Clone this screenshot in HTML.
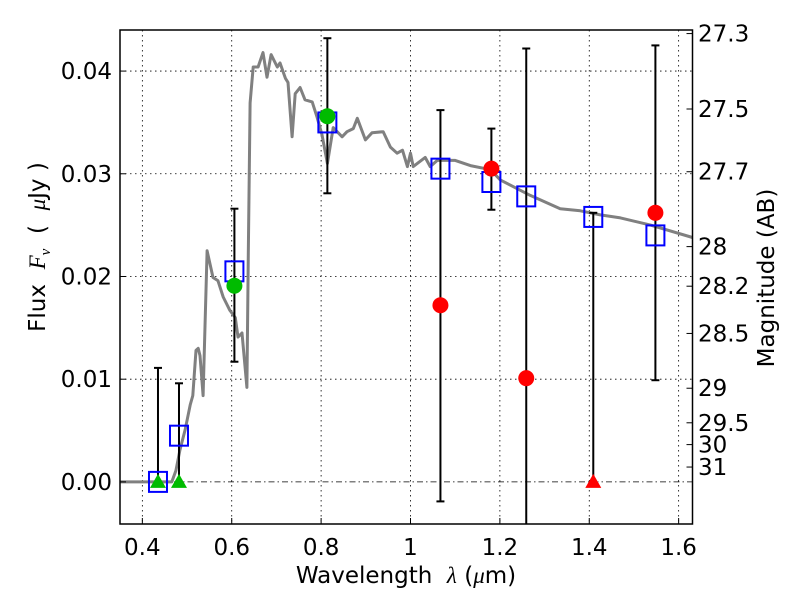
<!DOCTYPE html>
<html><head><meta charset="utf-8"><style>
html,body{margin:0;padding:0;background:#fff;}
svg{display:block;font-family:"DejaVu Sans","Liberation Sans",sans-serif;}
text{white-space:pre;}
</style></head><body>
<svg id="chart" width="800" height="600" xmlns="http://www.w3.org/2000/svg">
<rect x="0" y="0" width="800" height="600" fill="#fff"/>
<g id="grid"></g>
<g id="series"></g>
<rect x="120" y="30" width="572.5" height="494" fill="none" stroke="#000" stroke-width="1.5"/>
<g id="axes"></g>
<text x="406" y="583" font-size="23" text-anchor="middle">Wavelength  <tspan font-family="Liberation Serif" font-style="italic">λ</tspan> (<tspan font-family="Liberation Serif" font-style="italic">μ</tspan>m)</text>
<text transform="translate(45,247) rotate(-90)" font-size="23" text-anchor="middle">Flux  <tspan font-family="Liberation Serif" font-style="italic">F</tspan><tspan font-family="Liberation Serif" font-style="italic" font-size="15" dy="5">ν</tspan><tspan dy="-5">  (  </tspan><tspan font-family="Liberation Serif" font-style="italic">μ</tspan>Jy )</text>
<text transform="translate(774,278) rotate(-90)" font-size="23" text-anchor="middle">Magnitude (AB)</text>
</svg>
<script>
const xTicks=[0.4,0.6,0.8,1.0,1.2,1.4,1.6];
const xTickLabels=["0.4","0.6","0.8","1","1.2","1.4","1.6"];
const yTicks=[0,0.01,0.02,0.03,0.04];
const yTickLabels=["0.00","0.01","0.02","0.03","0.04"];
const magTicks=[27.3,27.5,27.7,28,28.2,28.5,29,29.5,30,31];
const specLam=[0.35,0.466,0.475,0.484,0.496,0.507,0.513,0.520,0.525,0.529,0.536,0.540,0.545,0.558,0.569,0.581,0.596,0.608,0.614,0.623,0.634,0.637,0.641,0.648,0.659,0.670,0.679,0.688,0.702,0.708,0.720,0.726,0.735,0.742,0.753,0.764,0.780,0.791,0.802,0.814,0.827,0.847,0.858,0.872,0.881,0.899,0.914,0.939,0.955,0.970,0.982,0.993,1.000,1.006,1.033,1.044,1.060,1.100,1.134,1.179,1.201,1.223,1.268,1.335,1.380,1.425,1.470,1.537,1.631];
const specFlux=[0,0,0.0011,0.0031,0.0051,0.0075,0.0084,0.0128,0.0130,0.0123,0.0084,0.0148,0.0225,0.0199,0.0196,0.0180,0.0167,0.0160,0.0141,0.0145,0.0092,0.0222,0.0369,0.0404,0.0404,0.0418,0.0394,0.0416,0.0404,0.0408,0.0393,0.0389,0.0336,0.0378,0.0384,0.0372,0.0370,0.0355,0.0338,0.0310,0.0345,0.0336,0.0341,0.0344,0.0354,0.0333,0.0340,0.0341,0.0326,0.0320,0.0323,0.0307,0.0320,0.0307,0.0316,0.0307,0.0313,0.0313,0.0308,0.0304,0.0294,0.0289,0.0279,0.0266,0.0264,0.0260,0.0257,0.0250,0.0238];
const modelLam=[0.435,0.482,0.606,0.814,1.067,1.181,1.259,1.409,1.548];
const modelFlux=[0.0,0.0045,0.0205,0.0350,0.0305,0.0292,0.0278,0.0258,0.0240];
const obsLam=[0.435,0.482,0.606,0.814,1.067,1.181,1.259,1.409,1.548];
const obsFlux=[0,0,0.0191,0.0356,0.0172,0.0305,0.0101,0,0.0262];
const obsLo=[0,0,0.0117,0.0281,-0.0019,0.0265,-0.006,0,0.0099];
const obsHi=[0.0111,0.0096,0.0266,0.0432,0.0362,0.0344,0.0422,0.0262,0.0425];
const obsKind=["upper","upper","det","det","det","det","det","upper","det"];
const obsColor=["#00bb00","#00bb00","#00bb00","#00bb00","#ff0000","#ff0000","#ff0000","#ff0000","#ff0000"];

const NS="http://www.w3.org/2000/svg";
const L=120,R=692.5,T=30,B=524;
const xMin=0.35,xMax=1.631,yMin=-0.0041,yMax=0.044;
const X=v=>L+(v-xMin)/(xMax-xMin)*(R-L);
const Y=v=>B-(v-yMin)/(yMax-yMin)*(B-T);
const magToFlux=m=>Math.pow(10,(23.9-m)/2.5);
function mk(tag,attrs,parent){const e=document.createElementNS(NS,tag);for(const k in attrs)e.setAttribute(k,attrs[k]);parent.appendChild(e);return e;}
const grid=document.getElementById('grid'),axes=document.getElementById('axes'),ser=document.getElementById('series');
xTicks.forEach((t,i)=>{
 const g=mk('line',{x1:X(t),x2:X(t),y1:T,y2:B,stroke:'#000','stroke-width':0.8,'stroke-dasharray':'1.5,3.5'},grid);
 
 const tk=mk('line',{x1:X(t),x2:X(t),y1:B,y2:B-6,stroke:'#000','stroke-width':1},axes);
 
 const tx=mk('text',{x:X(t),y:555,'font-size':23,'text-anchor':'middle'},axes);tx.textContent=xTickLabels[i];
 
});
yTicks.forEach((t,i)=>{
 const g=mk('line',{x1:L,x2:R,y1:Y(t),y2:Y(t),stroke:'#000','stroke-width':0.8,'stroke-dasharray':t===0?'6,3,1.5,3':'1.5,3.5'},grid);
 
 const tk=mk('line',{x1:L,x2:L+6,y1:Y(t),y2:Y(t),stroke:'#000','stroke-width':1},axes);
 
 const tx=mk('text',{x:112,y:Y(t)+8,'font-size':23,'text-anchor':'end'},axes);tx.textContent=yTickLabels[i];
 
});
magTicks.forEach(m=>{
 const y=Y(magToFlux(m));
 const tk=mk('line',{x1:R,x2:R-6,y1:y,y2:y,stroke:'#000','stroke-width':1},axes);
 
 const tx=mk('text',{x:698,y:y+8,'font-size':23},axes);tx.textContent=String(m);
 
});
const d=specLam.map((l,i)=>(i?'L':'M')+X(l).toFixed(1)+','+Y(specFlux[i]).toFixed(1)).join(' ');
const sp=mk('path',{d:d,fill:'none',stroke:'#808080','stroke-width':3,'stroke-linejoin':'round'},ser);

obsLam.forEach((l,i)=>{
 const x=X(l);
 const lo=Math.max(obsLo[i],yMin);
 const eb=mk('line',{x1:x,x2:x,y1:Y(lo),y2:Y(obsHi[i]),stroke:'#000','stroke-width':2},ser);
 
 const capT=mk('line',{x1:x-4,x2:x+4,y1:Y(obsHi[i]),y2:Y(obsHi[i]),stroke:'#000','stroke-width':2},ser);
 
 if(obsLo[i]>yMin && obsKind[i]==='det'){
  const capB=mk('line',{x1:x-4,x2:x+4,y1:Y(lo),y2:Y(lo),stroke:'#000','stroke-width':2},ser);
  
 }
});
modelLam.forEach((l,i)=>{
 const s=mk('rect',{x:X(l)-9,y:Y(modelFlux[i])-10,width:18,height:20,fill:'none',stroke:'#0000ff','stroke-width':2},ser);
 
});
obsLam.forEach((l,i)=>{
 const x=X(l),y=Y(obsFlux[i]);
 let m;
 if(obsKind[i]==='upper'){
  m=mk('polygon',{points:`${x},${y-8} ${x-8},${y+6} ${x+8},${y+6}`,fill:obsColor[i]},ser);
  
 }else{
  m=mk('circle',{cx:x,cy:y,r:8,fill:obsColor[i]},ser);
  
 }
 
});
</script>
</body></html>
